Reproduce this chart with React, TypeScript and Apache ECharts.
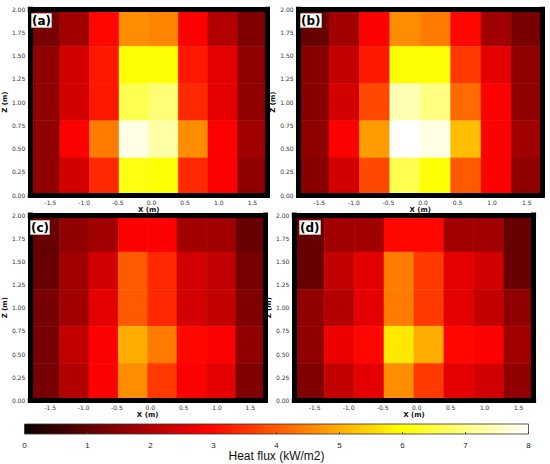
import React, { useEffect, useRef } from "react";
import * as echarts from "echarts";

// Cell edges (m)
const xEdges = [-1.8, -1.36, -0.92, -0.48, -0.04, 0.4, 0.84, 1.28, 1.72];
const zEdges = [0, 0.4, 0.8, 1.2, 1.6, 2.0];
const xTickValues = [-1.5, -1.0, -0.5, 0, 0.5, 1.0, 1.5];
const colorbarTicks = [0, 1, 2, 3, 4, 5, 6, 7, 8];
const panelLabels = ["(a)", "(b)", "(c)", "(d)"];

// Heat flux (kW/m2): rows from top (z 1.6–2.0) to bottom (z 0–0.4), columns left to right
const fluxA = [
  [1.3, 1.8, 3.0, 4.6, 4.5, 2.9, 2.0, 1.4],
  [1.6, 2.4, 3.2, 6.0, 6.0, 3.2, 2.6, 1.6],
  [1.6, 2.4, 3.2, 6.6, 6.9, 3.4, 2.6, 1.6],
  [1.6, 2.9, 4.4, 7.8, 7.3, 4.6, 2.9, 1.8],
  [1.6, 2.4, 3.4, 6.1, 6.0, 3.4, 2.9, 1.6],
];
const fluxB = [
  [1.1, 1.8, 2.9, 4.6, 4.4, 3.0, 1.8, 1.3],
  [1.5, 2.2, 3.2, 6.0, 6.0, 3.6, 2.6, 1.6],
  [1.5, 2.4, 3.8, 7.4, 7.0, 4.2, 2.9, 1.6],
  [1.6, 2.9, 4.8, 8.0, 7.8, 5.2, 2.9, 1.8],
  [1.5, 2.4, 3.8, 6.6, 6.0, 4.0, 2.9, 1.6],
];
const fluxC = [
  [1.1, 1.6, 1.8, 2.9, 2.9, 1.8, 1.8, 1.1],
  [1.1, 1.8, 2.4, 4.0, 3.4, 2.4, 2.2, 1.3],
  [1.3, 1.8, 2.6, 4.0, 3.4, 2.4, 2.2, 1.4],
  [1.3, 2.2, 2.9, 5.0, 4.4, 3.0, 2.9, 1.6],
  [1.3, 2.0, 2.9, 4.6, 3.6, 2.9, 2.6, 1.4],
];
const fluxD = [
  [1.1, 1.8, 1.8, 3.0, 3.0, 1.8, 1.8, 1.1],
  [1.1, 2.2, 2.6, 4.4, 3.6, 2.6, 2.4, 1.1],
  [1.6, 2.0, 2.6, 4.4, 3.6, 2.6, 2.2, 1.6],
  [1.6, 2.7, 3.0, 5.7, 5.0, 3.0, 2.9, 1.8],
  [1.4, 2.2, 2.6, 4.6, 3.6, 2.6, 2.4, 1.6],
];

const panels = [fluxA, fluxB, fluxC, fluxD];

// matplotlib "hot" colormap
function hot(t: number): string {
  const c = (v: number) => Math.max(0, Math.min(1, v));
  const r = t < 0.365079 ? 0.0416 + (1 - 0.0416) * (t / 0.365079) : 1;
  const g = c((t - 0.365079) / (0.746032 - 0.365079));
  const b = c((t - 0.746032) / (1 - 0.746032));
  const h = (v: number) => Math.round(v * 255).toString(16).padStart(2, "0");
  return "#" + h(r) + h(g) + h(b);
}
const hotColors: string[] = [];
for (let k = 0; k <= 64; k++) hotColors.push(hot(k / 64));

const grids = [
  { left: 27.2, top: 9.2, width: 240, height: 186 },
  { left: 298.6, top: 9.2, width: 243.3, height: 186 },
  { left: 27.6, top: 215, width: 237.4, height: 185.5 },
  { left: 294.3, top: 215, width: 239.3, height: 185.5 },
];
const zNameGaps = [15, 12, 15, 14];
const labelPos = [
  { left: 31, top: 13 },
  { left: 300, top: 13 },
  { left: 30, top: 220 },
  { left: 299, top: 220 },
];

export default function App() {
  const ref = useRef<HTMLDivElement>(null);
  useEffect(() => {
    if (!ref.current) return;
    const chart = echarts.init(ref.current, undefined, { renderer: "svg" });
    const frameLine = { show: true, onZero: false, lineStyle: { color: "#000", width: 5, cap: "square" } };
    const tickFont = { fontSize: 6, color: "#333", fontFamily: "DejaVu Sans" };
    const nameFont = { fontSize: 7, fontWeight: "bold", color: "#111", fontFamily: "DejaVu Sans" };
    const xAxis: any[] = [];
    const yAxis: any[] = [];
    const series: any[] = [];
    grids.forEach((g, gi) => {
      xAxis.push({
        type: "value", gridIndex: gi, min: xEdges[0], max: xEdges[xEdges.length - 1], position: "bottom", z: 10,
        axisLine: frameLine, axisTick: { show: false }, splitLine: { show: false },
        axisLabel: { ...tickFont, customValues: xTickValues, margin: 4, formatter: (v: number) => v.toFixed(1) },
        name: "X (m)", nameLocation: "middle", nameGap: 7, nameTextStyle: nameFont,
      });
      xAxis.push({
        type: "value", gridIndex: gi, min: xEdges[0], max: xEdges[xEdges.length - 1], position: "top", z: 10,
        axisLine: frameLine, axisTick: { show: false }, splitLine: { show: false }, axisLabel: { show: false },
      });
      yAxis.push({
        type: "value", gridIndex: gi, min: 0, max: 2, interval: 0.25, position: "left", z: 10,
        axisLine: frameLine, axisTick: { show: false }, splitLine: { show: false },
        axisLabel: { ...tickFont, margin: 5, formatter: (v: number) => v.toFixed(2) },
        name: "Z (m)", nameLocation: "middle", nameGap: zNameGaps[gi], nameTextStyle: nameFont,
      });
      yAxis.push({
        type: "value", gridIndex: gi, min: 0, max: 2, position: "right", z: 10,
        axisLine: frameLine, axisTick: { show: false }, splitLine: { show: false }, axisLabel: { show: false },
      });
      const rows = panels[gi];
      const data: number[][] = [];
      rows.forEach((row, ri) => {
        const j = rows.length - 1 - ri;
        row.forEach((v, i) => data.push([i, j, v]));
      });
      series.push({
        type: "custom",
        xAxisIndex: gi * 2,
        yAxisIndex: gi * 2,
        data,
        encode: { x: -1, y: -1 },
        renderItem: (params: any, api: any) => {
          const i = api.value(0);
          const j = api.value(1);
          const p0 = api.coord([xEdges[i], zEdges[j + 1]]);
          const p1 = api.coord([xEdges[i + 1], zEdges[j]]);
          const col = api.visual("color");
          return {
            type: "rect",
            shape: { x: p0[0], y: p0[1], width: p1[0] - p0[0], height: p1[1] - p0[1] },
            style: { fill: col, stroke: col, lineWidth: 0.6 },
          };
        },
      });
    });
    // colorbar
    const cbIndex = grids.length;
    const gradient = new echarts.graphic.LinearGradient(0, 0, 1, 0, [
      { offset: 0, color: hot(0) },
      { offset: 0.365079, color: hot(0.365079) },
      { offset: 0.746032, color: hot(0.746032) },
      { offset: 1, color: hot(1) },
    ]);
    xAxis.push({
      type: "value", gridIndex: cbIndex, min: colorbarTicks[0], max: colorbarTicks[colorbarTicks.length - 1], interval: 1,
      position: "bottom", z: 10,
      axisLine: { show: false }, splitLine: { show: false },
      axisTick: { show: true, inside: true, length: 2, lineStyle: { color: "#333", width: 0.8 } },
      axisLabel: { fontSize: 8, color: "#222", fontFamily: "Liberation Sans", margin: 7 },
      name: "Heat flux (kW/m2)", nameLocation: "middle", nameGap: 15,
      nameTextStyle: { fontSize: 12, color: "#111", fontFamily: "Liberation Sans" },
    });
    yAxis.push({ type: "value", gridIndex: cbIndex, min: 0, max: 1, show: false });
    const option: any = {
      animation: false,
      backgroundColor: "#fff",
      title: panelLabels.map((t, k) => ({
        text: t, left: labelPos[k].left, top: labelPos[k].top, padding: [2, 1, 1, 1], z: 50,
        backgroundColor: "#fff", borderColor: "#ddd", borderWidth: 0.5,
        textStyle: { fontSize: 12, fontWeight: "bold", color: "#000", fontFamily: "DejaVu Sans" },
      })),
      grid: [
        ...grids.map((g) => ({ ...g, containLabel: false })),
        { left: 24.5, top: 424, width: 504, height: 10, show: true, backgroundColor: gradient, borderColor: "#333", borderWidth: 0.8 },
      ],
      visualMap: {
        type: "continuous", show: false, min: 0, max: 8, dimension: 2, seriesIndex: [0, 1, 2, 3],
        inRange: { color: hotColors },
      },
      xAxis, yAxis, series,
    };
    chart.setOption(option);
    return () => chart.dispose();
  }, []);
  return <div ref={ref} style={{ position: "fixed", left: 0, top: 0, width: 550, height: 464, background: "#fff" }} />;
}
